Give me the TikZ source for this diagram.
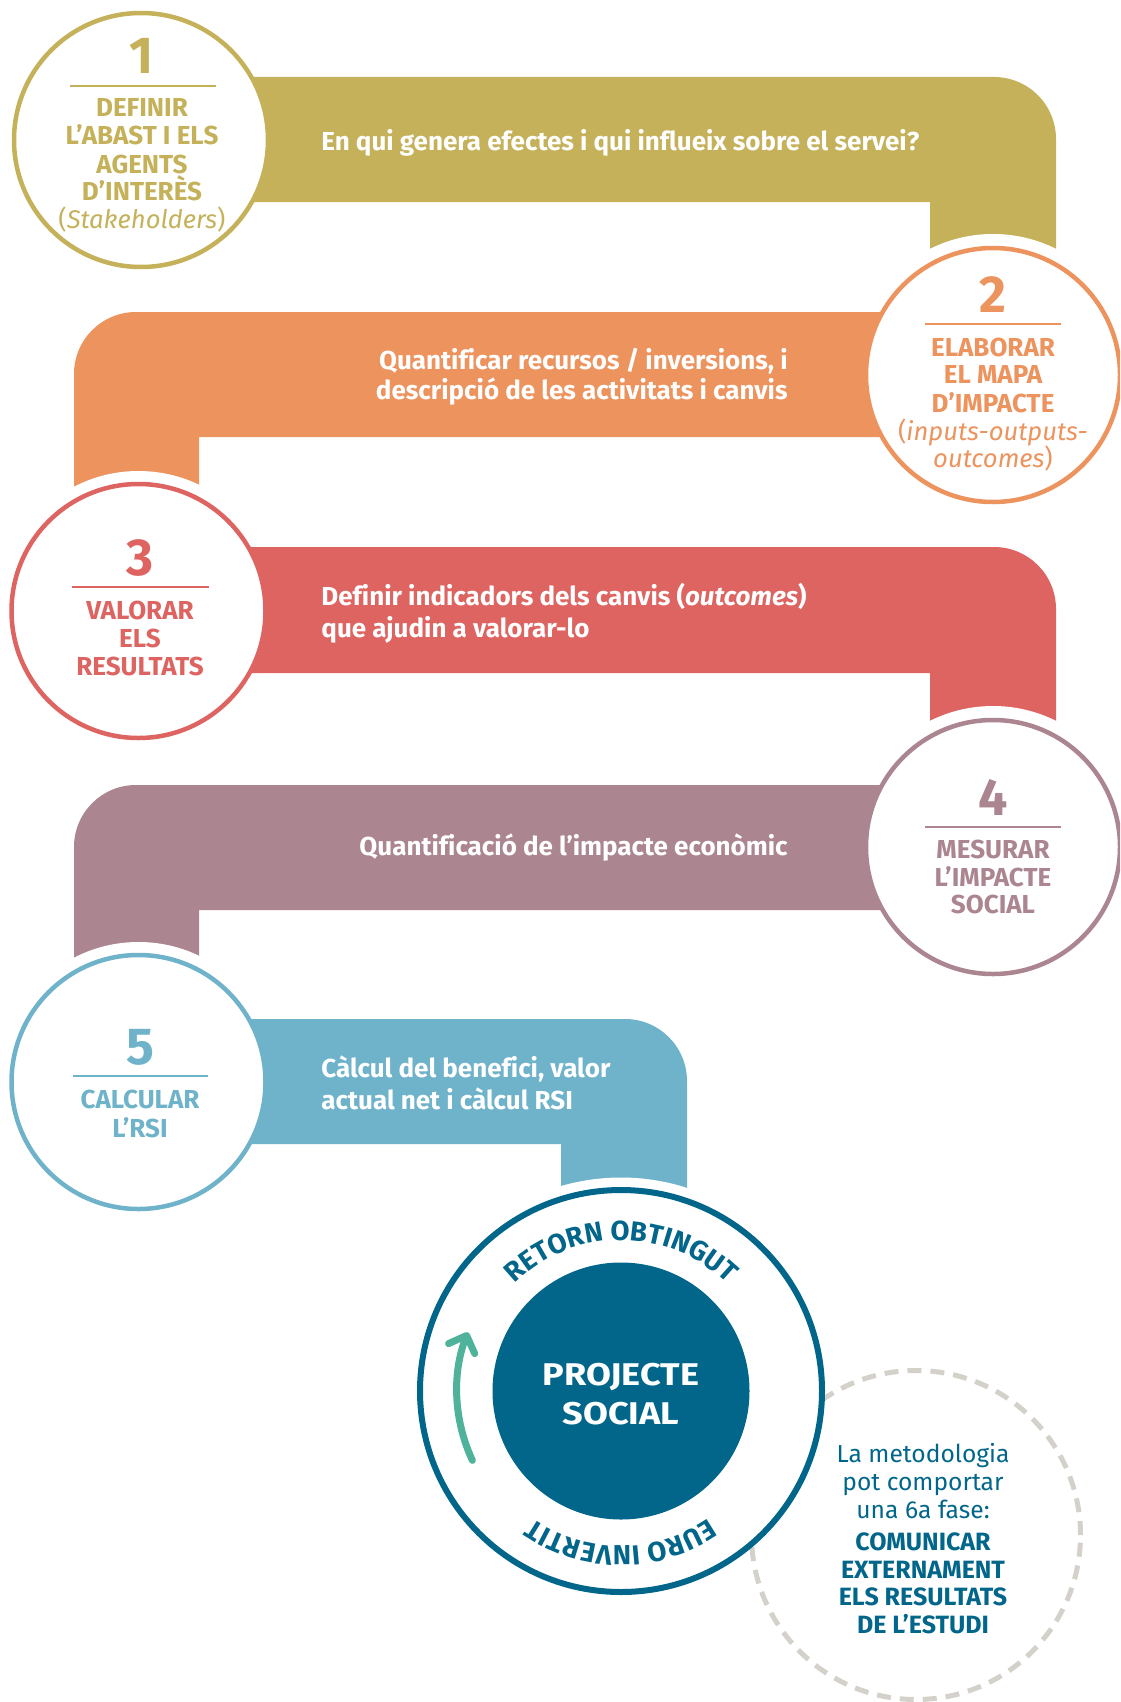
\documentclass[tikz,border=0pt]{standalone}
\usepackage{fontspec}
\usepackage{graphicx}
\setmainfont{Fira Sans}[Ligatures=NoCommon]
\usetikzlibrary{decorations.text,arrows.meta}
\definecolor{myolive}{HTML}{C4B15A}
\definecolor{myorange}{HTML}{EC935E}
\definecolor{myred}{HTML}{DD6461}
\definecolor{mymauve}{HTML}{AB8590}
\definecolor{myblue}{HTML}{6FB3CA}
\definecolor{myteal}{HTML}{01668A}
\definecolor{mygreen}{HTML}{4FB39B}
\definecolor{mygrey}{HTML}{D3D1C9}
\tikzset{
  stepcirc/.style={circle, draw=#1, line width=2.25pt, fill=white, minimum size=127pt, inner sep=0pt},
  digit/.style={text=#1, font=\fontsize{26}{26}\selectfont\bfseries, anchor=base, inner sep=0pt},
  ctext/.style={text=#1, font=\fontsize{13}{14}\selectfont\bfseries, anchor=base, inner sep=0pt},
  cital/.style={text=#1, font=\fontsize{12.8}{14}\selectfont, anchor=base, inner sep=0pt},
  cdivider/.style={draw=#1, line width=0.7pt},
  btext/.style={text=white, font=\fontsize{13}{15}\selectfont\bfseries, inner sep=0pt},
  bwest/.style={btext, anchor=base west},
  beast/.style={btext, anchor=base east},
  dtext/.style={text=myteal, font=\fontsize{12.3}{14}\selectfont, anchor=base, inner sep=0pt},
  dbold/.style={text=myteal, font=\fontsize{12.5}{14}\selectfont\bfseries, anchor=base, inner sep=0pt},
  ptext/.style={text=white, font=\fontsize{15.7}{20}\selectfont\bfseries, anchor=base, inner sep=0pt},
}
\begin{document}
\begin{tikzpicture}[x=0.5pt,y=0.5pt]
\useasboundingbox (0,0) rectangle (1120,-1702);
\clip (0,0) rectangle (1120,-1702);
% centres
\coordinate (p1) at (141,-140);
\coordinate (p2) at (993,-375);
\coordinate (p3) at (138.5,-611);
\coordinate (p4) at (993,-847);
\coordinate (p5) at (138.5,-1082);
\coordinate (pb) at (621,-1391);
\coordinate (pd) at (916,-1535);

% band 1
\fill[myolive] (200,-77) -- (994,-77) arc[start angle=90, end angle=0, radius=62] -- (1056,-300) -- (930,-300) -- (930,-202) -- (200,-202) -- cycle;
\node[stepcirc=myolive] (c1) at (p1) {};
% band 2
\fill[white] (p2) circle[radius=141];
\fill[myorange] (1000,-312) -- (136,-312) arc[start angle=90, end angle=180, radius=62] -- (74,-520) -- (199,-520) -- (199,-437) -- (1000,-437) -- cycle;
\node[stepcirc=myorange] (c2) at (p2) {};
% band 3
\fill[white] (p3) circle[radius=140];
\fill[myred] (200,-547) -- (994,-547) arc[start angle=90, end angle=0, radius=62] -- (1056,-780) -- (930,-780) -- (930,-673) -- (200,-673) -- cycle;
\node[stepcirc=myred] (c3) at (p3) {};
% band 4
\fill[white] (p4) circle[radius=141];
\fill[mymauve] (1000,-785) -- (136,-785) arc[start angle=90, end angle=180, radius=62] -- (74,-1000) -- (199,-1000) -- (199,-910) -- (1000,-910) -- cycle;
\node[stepcirc=mymauve] (c4) at (p4) {};
% band 5
\fill[white] (p5) circle[radius=140];
\fill[myblue] (200,-1019) -- (625,-1019) arc[start angle=90, end angle=0, radius=62] -- (687,-1260) -- (561,-1260) -- (561,-1144) -- (200,-1144) -- cycle;
\node[stepcirc=myblue] (c5) at (p5) {};
\fill[white] (pb) circle[radius=213.5];

% dashed circle
\node[circle, draw=mygrey, line width=2.5pt, dash pattern=on 7pt off 4.5pt, minimum size=164.5pt, inner sep=0pt] (c6) at (pd) {};
% big circle
\node[circle, draw=myteal, line width=3pt, fill=white, minimum size=201pt, inner sep=0pt] (cb) at (pb) {};
\node[circle, fill=myteal, minimum size=128.5pt, inner sep=0pt] (ci) at (pb) {};

% circle 1 text
\node[digit=myolive] (n1) at (142,-74) {1};
\draw[cdivider=myolive] (70,-86) -- (216,-86);
\node[ctext=myolive] (t1a) at (142,-117) {DEFINIR};
\node[ctext=myolive] (t1b) at (142,-145) {L’ABAST I ELS};
\node[ctext=myolive] (t1c) at (142,-173) {AGENTS};
\node[ctext=myolive] (t1d) at (142,-200) {D’INTERÈS};
\node[cital=myolive] (t1e) at (142,-228) {(\textit{Stakeholders})};

% circle 2 text
\node[digit=myorange] (n2) at (993,-312) {2};
\draw[cdivider=myorange] (925,-324) -- (1061,-324);
\node[ctext=myorange] (t2a) at (993,-356) {ELABORAR};
\node[ctext=myorange] (t2b) at (993,-383) {EL MAPA};
\node[ctext=myorange] (t2c) at (993,-412) {D’IMPACTE};
\node[cital=myorange] (t2d) at (993,-440) {(\textit{inputs-outputs-}};
\node[cital=myorange] (t2e) at (993,-467) {\textit{outcomes})};

% circle 3 text
\node[digit=myred] (n3) at (140,-575) {3};
\draw[cdivider=myred] (72,-587) -- (209,-587);
\node[ctext=myred] (t3a) at (140,-619) {VALORAR};
\node[ctext=myred] (t3b) at (140,-647) {ELS};
\node[ctext=myred] (t3c) at (140,-675) {RESULTATS};

% circle 4 text
\node[digit=mymauve] (n4) at (993,-815) {4};
\draw[cdivider=mymauve] (925,-827) -- (1061,-827);
\node[ctext=mymauve] (t4a) at (993,-858) {MESURAR};
\node[ctext=mymauve] (t4b) at (993,-886) {L’IMPACTE};
\node[ctext=mymauve] (t4c) at (993,-913) {SOCIAL};

% circle 5 text
\node[digit=myblue] (n5) at (140,-1064) {5};
\draw[cdivider=myblue] (73,-1076) -- (208,-1076);
\node[ctext=myblue] (t5a) at (140,-1108) {CALCULAR};
\node[ctext=myblue] (t5b) at (140,-1137) {L’RSI};

% band texts
\node[bwest] (b1) at (321,-150) {En qui genera efectes i qui influeix sobre el servei?};
\node[beast] (b2a) at (788,-369) {Quantificar recursos / inversions, i};
\node[beast] (b2b) at (788,-399) {descripció de les activitats i canvis};
\node[bwest] (b3a) at (321,-605) {Definir indicadors dels canvis (\textit{outcomes})};
\node[bwest] (b3b) at (321,-637) {que ajudin a valorar-lo};
\node[beast] (b4) at (788,-855) {Quantificació de l’impacte econòmic};
\node[bwest] (b5a) at (321,-1077) {Càlcul del benefici, valor};
\node[bwest] (b5b) at (321,-1109) {actual net i càlcul RSI};

% projecte social
\node[ptext] (ps1) at (621,-1385) {\scalebox{1.15}[1]{PROJECTE}};
\node[ptext] (ps2) at (621,-1424) {\scalebox{1.15}[1]{SOCIAL}};

% arc texts
\path[decorate, decoration={text along path, text align=center,
  text={|\fontsize{13.8}{14}\selectfont\bfseries\color{myteal}|RETORN OBTINGUT}}]
  (pb) ++(180:151) arc[start angle=180, end angle=0, radius=151];
\path[decorate, decoration={text along path, text align=center,
  text={|\fontsize{13.8}{14}\selectfont\bfseries\color{myteal}|EURO INVERTIT}}]
  (pb) ++(0:155) arc[start angle=0, end angle=-180, radius=155];

% green arrow
\draw[mygreen, line width=3.5pt, line cap=round, -{Straight Barb[length=7pt, width=14pt, round]}]
  (pb) ++(205:164) arc[start angle=205, end angle=159, radius=164];

% dashed circle text
\node[dtext] (d1) at (923,-1462) {La metodologia};
\node[dtext] (d2) at (923,-1490) {pot comportar};
\node[dtext] (d3) at (923,-1518) {una 6a fase:};
\node[dbold] (d4) at (923,-1550) {COMUNICAR};
\node[dbold] (d5) at (923,-1578) {EXTERNAMENT};
\node[dbold] (d6) at (923,-1605) {ELS RESULTATS};
\node[dbold] (d7) at (923,-1633) {DE L’ESTUDI};
\end{tikzpicture}
\end{document}
